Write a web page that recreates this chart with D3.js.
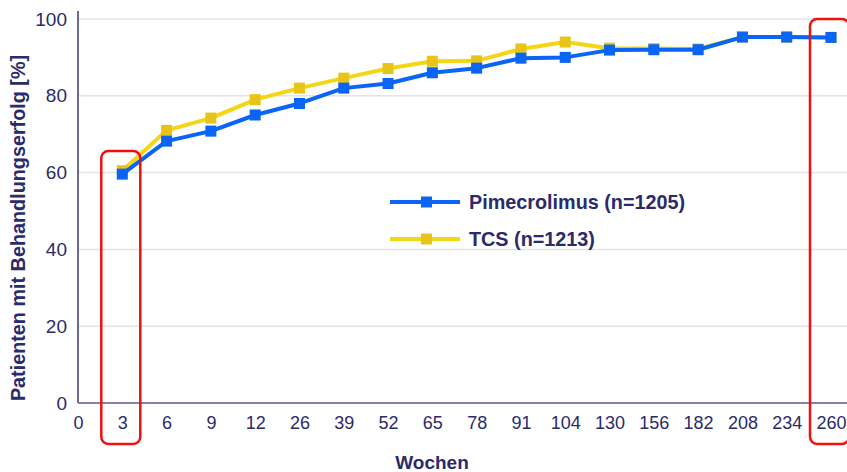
<!DOCTYPE html>
<html>
<head>
<meta charset="utf-8">
<script src="https://cdn.jsdelivr.net/npm/d3@7"></script>
<style>
body { margin: 0; background: #fff; }
svg { display: block; font-family: Arial, "Liberation Sans", sans-serif; }
</style>
</head>
<body>
<svg id="chart" width="847" height="472"></svg>
<script>
// data
var weeks = ["0", "3", "6", "9", "12", "26", "39", "52", "65", "78", "91", "104", "130", "156", "182", "208", "234", "260"];
var pimeWeeks = ["3", "6", "9", "12", "26", "39", "52", "65", "78", "91", "104", "130", "156", "182", "208", "234", "260"];
var pimeValues = [59.6, 68.2, 70.8, 75, 78, 82, 83.2, 86, 87.2, 89.8, 90, 91.9, 92, 92, 95.3, 95.3, 95.2];
var tcsValues = [60.5, 71, 74.2, 79, 82, 84.6, 87.1, 89, 89.1, 92.2, 94, 92.4, 92.3, 92.2, 95.3, 95.3, 95.2];
var yTicks = [0, 20, 40, 60, 80, 100];
var series = [
	{ name: "Pimecrolimus (n=1205)", values: pimeValues, color: "#0a64f5", marker: "#0a64f5" },
	{ name: "TCS (n=1213)", values: tcsValues, color: "#f5d614", marker: "#e8c418" }
];
var highlightWeeks = ["3", "260"];

var svg = d3.select("#chart"),
	width = +svg.attr("width"),
	height = +svg.attr("height");
var margin = { left: 78, right: 16, top: 19, bottom: 69 };
var textColor = "#2b2a6b";

var x = d3.scalePoint().domain(weeks).range([margin.left, width - margin.right]);
var y = d3.scaleLinear().domain([0, 100]).range([height - margin.bottom, margin.top]);

// gridlines
svg.append("g").selectAll("line").data(yTicks.slice(1)).enter().append("line")
	.attr("x1", margin.left).attr("x2", width)
	.attr("y1", function(d) { return y(d); })
	.attr("y2", function(d) { return y(d); })
	.attr("stroke", "#e4e4e8").attr("stroke-width", 1.5);

// axes
var gy = svg.append("g").attr("transform", "translate(" + margin.left + ",0)")
	.call(d3.axisLeft(y).tickValues(yTicks).tickSize(0).tickPadding(11));
gy.select(".domain").remove();
gy.selectAll("text").attr("fill", textColor).style("font-size", "19px");

var gx = svg.append("g").attr("transform", "translate(0," + y(0) + ")")
	.call(d3.axisBottom(x).tickSize(0).tickPadding(13));
gx.select(".domain").remove();
gx.selectAll("text").attr("fill", textColor).style("font-size", "18px");

svg.append("line")
	.attr("x1", margin.left).attr("x2", margin.left)
	.attr("y1", 11).attr("y2", y(0))
	.attr("stroke", "#6a6a9e").attr("stroke-width", 2);
svg.append("line")
	.attr("x1", margin.left).attr("x2", width)
	.attr("y1", y(0)).attr("y2", y(0))
	.attr("stroke", "#8282aa").attr("stroke-width", 2);

// axis titles
svg.append("text")
	.attr("x", 432).attr("y", 469)
	.attr("text-anchor", "middle")
	.attr("fill", textColor)
	.style("font-size", "19px").style("font-weight", "bold")
	.text("Wochen");
svg.append("text")
	.attr("transform", "translate(25," + 228 + ") rotate(-90)")
	.attr("text-anchor", "middle")
	.attr("fill", textColor)
	.style("font-size", "19.8px").style("font-weight", "bold")
	.text("Patienten mit Behandlungserfolg [%]");

// lines, yellow first so blue sits on top
var line = d3.line()
	.x(function(d) { return x(d.week); })
	.y(function(d) { return y(d.value); });

series.slice().reverse().forEach(function(s) {
	var pts = pimeWeeks.map(function(w, i) { return { week: w, value: s.values[i] }; });
	var g = svg.append("g");
	g.append("path").attr("d", line(pts))
		.attr("fill", "none").attr("stroke", s.color)
		.attr("stroke-width", 4).attr("stroke-linejoin", "round");
	g.selectAll("rect").data(pts).enter().append("rect")
		.attr("x", function(d) { return x(d.week) - 5.5; })
		.attr("y", function(d) { return y(d.value) - 5.5; })
		.attr("width", 11).attr("height", 11)
		.attr("fill", s.marker);
});

// legend
var legend = svg.append("g");
series.forEach(function(s, i) {
	var ly = 202 + i * 37;
	legend.append("line").attr("x1", 390).attr("x2", 460).attr("y1", ly).attr("y2", ly)
		.attr("stroke", s.color).attr("stroke-width", 4);
	legend.append("rect").attr("x", 421).attr("y", ly - 5.5).attr("width", 11).attr("height", 11)
		.attr("fill", s.marker);
	legend.append("text").attr("x", 469).attr("y", ly + 7)
		.attr("fill", textColor)
		.style("font-size", "19.8px").style("font-weight", "bold")
		.text(s.name);
});

// red highlight boxes
var boxTop = { "3": 151, "260": 19 };
svg.append("g").selectAll("rect").data(highlightWeeks).enter().append("rect")
	.attr("x", function(d) { return x(d) - 21; })
	.attr("y", function(d) { return boxTop[d]; })
	.attr("width", 39)
	.attr("height", function(d) { return 444 - boxTop[d]; })
	.attr("rx", 7)
	.attr("fill", "none").attr("stroke", "#ee1111").attr("stroke-width", 2.5);
</script>
</body>
</html>
